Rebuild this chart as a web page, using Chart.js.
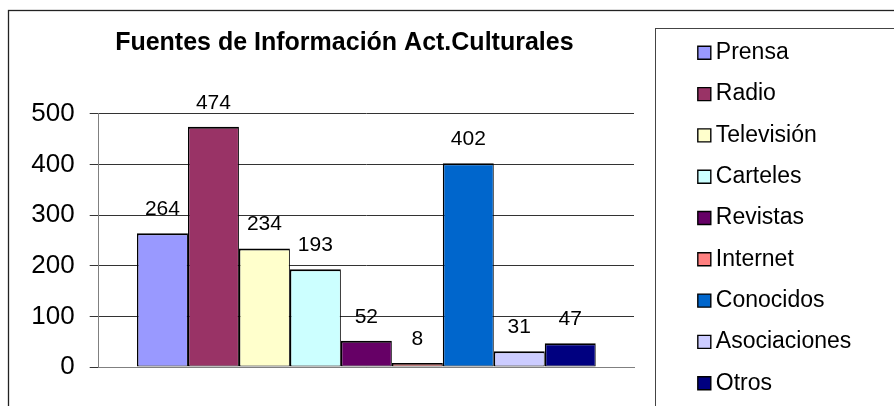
<!DOCTYPE html>
<html>
<head>
<meta charset="utf-8">
<script src="https://cdn.jsdelivr.net/npm/chart.js@4.4.0/dist/chart.umd.min.js"></script>
<style>
	html, body { margin: 0; padding: 0; background: #fff; }
	#wrap { width: 894px; height: 406px; overflow: hidden; position: relative; }
	canvas { display: block; }
</style>
</head>
<body>
<div id="wrap"><canvas id="fuentesChart" width="894" height="427"></canvas></div>
<script>
let categorias = [''];
let fuentes = ['Prensa', 'Radio', 'Televisión', 'Carteles', 'Revistas', 'Internet', 'Conocidos', 'Asociaciones', 'Otros'];
let respuestas = [264, 474, 234, 193, 52, 8, 402, 31, 47];
let yTicks = [0, 100, 200, 300, 400, 500];
let colores = ['#9999FF', '#993366', '#FFFFCC', '#CCFFFF', '#660066', '#FF8080', '#0066CC', '#CCCCFF', '#000080'];

Chart.defaults.font.family = '"Liberation Sans", Arial, sans-serif';
Chart.defaults.color = '#000';

// marco del grafico y recuadro de la leyenda, estilo Excel
var excelFrame = {
	id: 'excelFrame',
	afterLayout: function (chart) {
		chart.legend.left += 52;
		chart.legend.right = chart.width;
		chart.titleBlock.left -= 22;
		chart.titleBlock.right -= 22;
	},
	afterDraw: function (chart) {
		var c = chart.ctx, a = chart.chartArea;
		c.save();
		c.strokeStyle = '#222';
		c.lineWidth = 1.3;
		c.strokeRect(8.5, 10.5, chart.width + 20, chart.height + 20);
		c.strokeStyle = '#444';
		c.lineWidth = 1;
		c.strokeRect(Math.round(a.right) + 21.5, 28.5, 400, chart.height);
		c.restore();
	}
};

// valores encima de cada barra
var valueLabels = {
	id: 'valueLabels',
	afterDatasetsDraw: function (chart) {
		var c = chart.ctx;
		c.save();
		c.font = '21px "Liberation Sans", Arial, sans-serif';
		c.fillStyle = '#000';
		c.textAlign = 'center';
		c.textBaseline = 'alphabetic';
		chart.data.datasets.forEach(function (ds, i) {
			chart.getDatasetMeta(i).data.forEach(function (bar, j) {
				c.fillText(ds.data[j], bar.x, bar.y - 18);
			});
		});
		c.restore();
	}
};

var ctx = document.getElementById('fuentesChart').getContext('2d');
var fuentesChart = new Chart(ctx, {
	type: 'bar',
	data: {
		labels: categorias,
		datasets: fuentes.map(function (nombre, i) {
			return {
				label: nombre,
				data: [respuestas[i]],
				backgroundColor: colores[i],
				borderColor: '#000',
				borderWidth: { top: 2, left: 1.5, right: 1, bottom: 1 },
				borderSkipped: false,
				barPercentage: 1,
				categoryPercentage: 0.857
			};
		})
	},
	options: {
		responsive: false,
		animation: false,
		layout: {
			padding: { top: 23, left: 9, right: 160, bottom: 0 }
		},
		scales: {
			x: {
				grid: { display: false },
				ticks: { display: false },
				border: { display: true, color: '#808080', width: 1 },
				afterFit: function (scale) { scale.height = 60; }
			},
			y: {
				min: 0,
				max: 500,
				afterBuildTicks: function (scale) {
					scale.ticks = yTicks.map(function (v) { return { value: v }; });
				},
				ticks: {
					font: { size: 26 },
					color: '#000',
					padding: 15
				},
				grid: {
					color: '#333',
					tickLength: 9,
					tickColor: '#333'
				},
				border: { display: true, color: '#808080', width: 1 },
				afterFit: function (scale) { scale.width = 89.7; }
			}
		},
		plugins: {
			title: {
				display: true,
				fullSize: false,
				text: 'Fuentes de Información Act.Culturales',
				color: '#000',
				font: { size: 25, weight: 'bold' },
				padding: { top: 5, bottom: 55.7 }
			},
			legend: {
				position: 'right',
				align: 'start',
				maxWidth: 100,
				labels: {
					usePointStyle: true,
					pointStyle: 'rect',
					boxWidth: 0.01,
					boxHeight: 13,
					padding: 18.3,
					color: '#000',
					font: { size: 23 }
				}
			},
			tooltip: { enabled: false }
		}
	},
	plugins: [excelFrame, valueLabels]
});
</script>
</body>
</html>
